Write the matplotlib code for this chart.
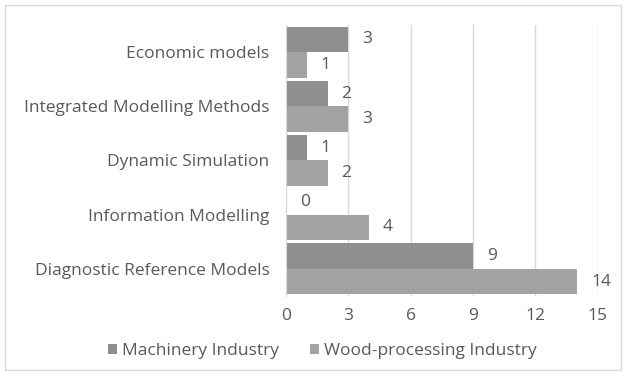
import matplotlib
matplotlib.use("Agg")
import matplotlib.pyplot as plt
import numpy as np
from matplotlib.patches import Rectangle

# data (top to bottom)
categories = ["Economic models", "Integrated Modelling Methods", "Dynamic Simulation",
              "Information Modelling", "Diagnostic Reference Models"]
machinery = [3, 2, 1, 0, 9]
wood = [1, 3, 2, 4, 14]
series_names = ["Machinery Industry", "Wood-processing Industry"]
xticks = [0, 3, 6, 9, 12, 15]

plt.rcParams["font.family"] = ["Open Sans", "DejaVu Sans"]
text_color = "#595959"
fs = 12.5

fig = plt.figure(figsize=(6.26, 3.75), dpi=100)
ax = fig.add_axes([0.457, 0.211, 0.498, 0.722])

# border around the chart
fig.patches.append(Rectangle((0.008, 0.013), 0.984, 0.973, transform=fig.transFigure,
                             fill=False, edgecolor="#d9d9d9", linewidth=1))

n = len(categories)
y = np.arange(n)[::-1]
h = 0.47
bars_m = ax.barh(y + h / 2, machinery, height=h, color="#8f8f8f", label=series_names[0])
bars_w = ax.barh(y - h / 2, wood, height=h, color="#a3a3a3", label=series_names[1])

for bars in (bars_m, bars_w):
    for b in bars:
        ax.annotate(str(int(b.get_width())), (b.get_width(), b.get_y() + b.get_height() / 2),
                    xytext=(10, 0), textcoords="offset points", va="center", ha="left",
                    fontsize=fs, color=text_color)

ax.set_xlim(0, 15)
ax.set_ylim(-0.5, n - 0.5)
ax.set_xticks(xticks)
ax.set_yticks(y)
ax.set_yticklabels(categories)
ax.tick_params(axis="both", length=0, labelsize=fs, colors=text_color)
ax.tick_params(axis="x", pad=9)
ax.tick_params(axis="y", pad=12)
ax.grid(axis="x", color="#d9d9d9", linewidth=1)
ax.set_axisbelow(True)
for s in ["top", "right", "bottom"]:
    ax.spines[s].set_visible(False)
ax.spines["left"].set_color("#d9d9d9")

leg = fig.legend(loc="center", bbox_to_anchor=(0.515, 0.063), ncol=2, frameon=False,
                 fontsize=fs, handlelength=0.5, handleheight=0.5, handletextpad=0.3,
                 columnspacing=1.8)
for t in leg.get_texts():
    t.set_color(text_color)

fig.savefig("out.png", dpi=100)
